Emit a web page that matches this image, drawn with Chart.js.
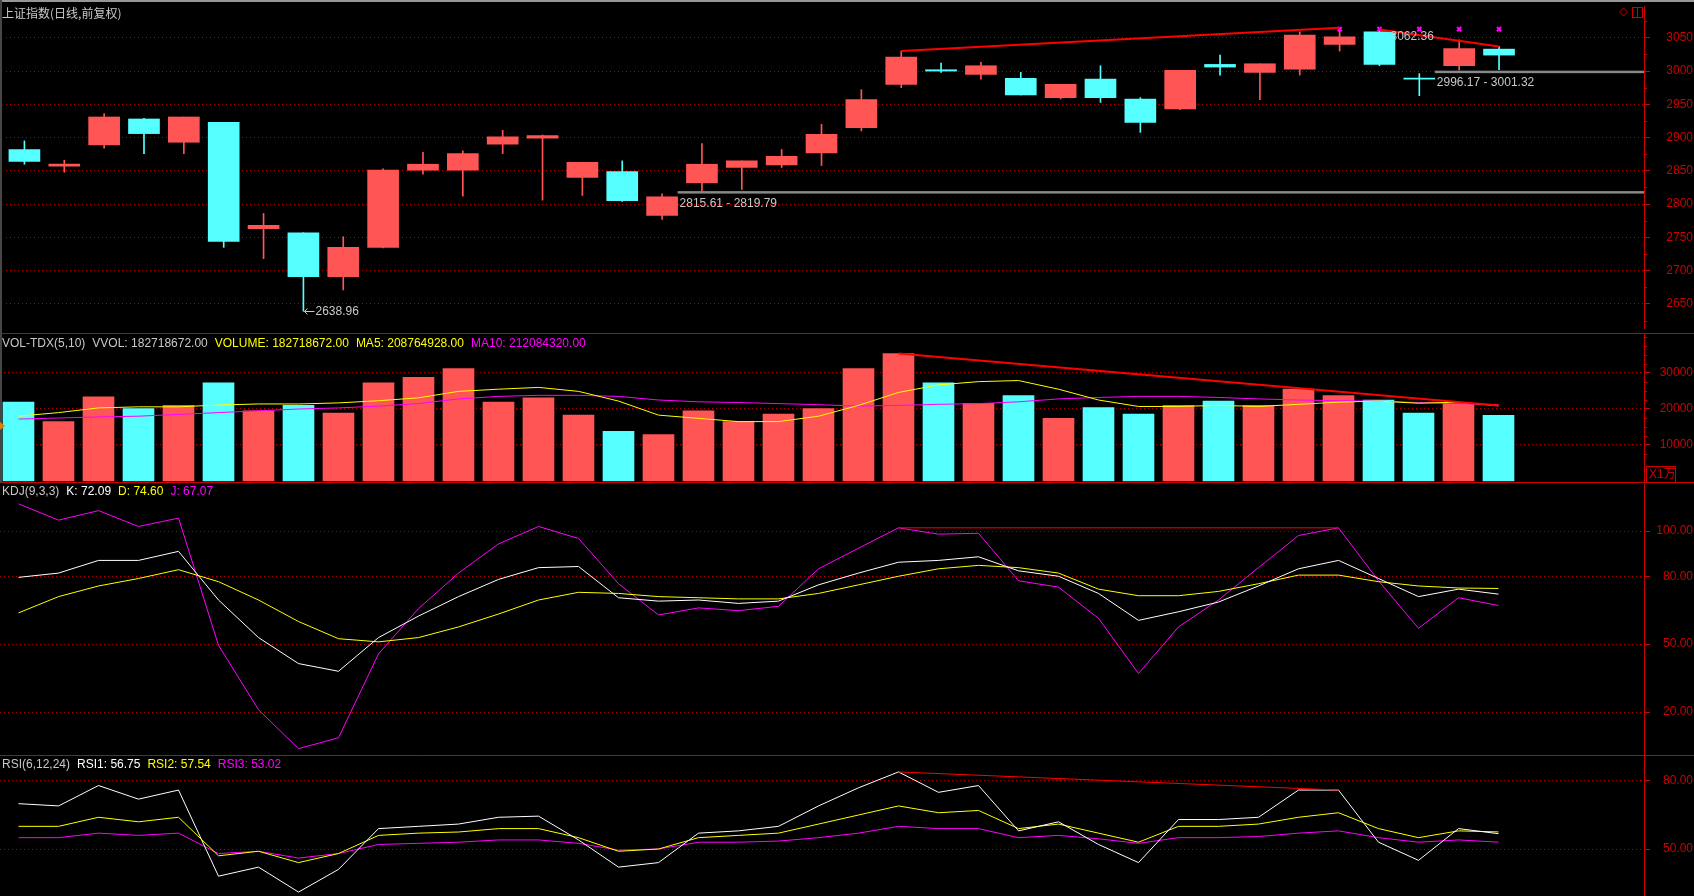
<!DOCTYPE html>
<html>
<head>
<meta charset="utf-8">
<script src="https://cdn.jsdelivr.net/npm/chart.js@4.4.1/dist/chart.umd.min.js"></script>
<style>
  html, body { margin: 0; padding: 0; background: #000; }
  #wrap { position: relative; width: 1694px; height: 896px; overflow: hidden; background: #000; }
  .pane { position: absolute; left: 0; width: 1694px; }
</style>
</head>
<body>
<div id="wrap">
  <div class="pane" style="top:0;height:334px"><canvas id="priceChart"></canvas></div>
  <div class="pane" style="top:334px;height:149px"><canvas id="volChart"></canvas></div>
  <div class="pane" style="top:483px;height:273px"><canvas id="kdjChart"></canvas></div>
  <div class="pane" style="top:756px;height:140px"><canvas id="rsiChart"></canvas></div>
</div>
<script>
// K线数据 (上证指数 日线 前复权)
const candleOpen  = [2882, 2857, 2889, 2928, 2893, 2923, 2763, 2757, 2691, 2735, 2851, 2851, 2890, 2899, 2840, 2849, 2783, 2832, 2855, 2859, 2877, 2915, 2980, 3002, 2995, 2989, 2960, 2988, 2958, 2943, 3010, 2998, 3003, 3040, 3059, 2989, 3008, 3033];
const candleHigh  = [2895, 2866, 2936, 2929, 2931, 2923, 2786, 2757, 2751, 2853, 2878, 2880, 2911, 2904, 2863, 2865, 2815.61, 2891, 2865, 2882, 2920, 2972, 3030, 3012, 3013, 2998, 2980, 3008, 2960, 3001, 3024, 3011, 3059, 3065, 3062.36, 2996.17, 3047, 3037];
const candleLow   = [2860, 2848, 2884, 2876, 2876, 2735, 2718, 2638.96, 2671, 2734, 2845, 2812, 2876, 2806, 2813, 2804, 2777, 2819.79, 2822, 2855, 2858, 2910, 2975, 2998, 2988, 2964, 2958, 2953, 2908, 2942, 2994, 2957, 2994, 3030, 3008, 2963, 3001.32, 3002];
const candleClose = [2864, 2860, 2931, 2906, 2931, 2744, 2768, 2691, 2735, 2851, 2860, 2876, 2901, 2903, 2863, 2805, 2811, 2860, 2865, 2872, 2905, 2957, 3021, 3000, 3008, 2964, 2980, 2960, 2923, 3001, 3006, 3011, 3054, 3051.5, 3010, 2988, 3034, 3024];

// 成交量 (万) 及均量
const volume = [21900, 16500, 23400, 20100, 21000, 27300, 19500, 21000, 18900, 27300, 28800, 31200, 21900, 23100, 18300, 13800, 12900, 19500, 16500, 18600, 20100, 31200, 35400, 27300, 21600, 23700, 17400, 20400, 18600, 21000, 22200, 21000, 25500, 23700, 22500, 18900, 21600, 18271.87];
const volMa5  = [18000, 19000, 20300, 20600, 20600, 21100, 21400, 21400, 21700, 22300, 23100, 24900, 25500, 26000, 24900, 22200, 18300, 17400, 16500, 16500, 18000, 21000, 24600, 26700, 27600, 27900, 25500, 22500, 20700, 20700, 21000, 20700, 21300, 21900, 22200, 21600, 21900, 20876.49];
const volMa10 = [17200, 17500, 17800, 18000, 18500, 19000, 19500, 20000, 20300, 20800, 21500, 22800, 23500, 23800, 23800, 23500, 22500, 22000, 21800, 21500, 21200, 20800, 21000, 21300, 21500, 22000, 22800, 23200, 23500, 23500, 23200, 22800, 22500, 22300, 22200, 21800, 21500, 21208.43];

// KDJ(9,3,3)
const kdjK = [79.5, 81.4, 87, 87, 91, 69.5, 52.9, 41.4, 38, 52.9, 62.4, 71, 78.6, 83.8, 84.3, 70.5, 69, 69.5, 68, 69, 76.2, 81.4, 86.2, 87, 88.6, 82.4, 80, 72.4, 60.5, 64.3, 68.6, 75.7, 83.3, 87, 79, 71, 74.3, 72.09];
const kdjD = [63.8, 71, 75.7, 79, 82.9, 77.6, 69.5, 60, 52.4, 51, 52.9, 57.6, 63.3, 69.5, 72.9, 72.4, 71, 70.5, 70, 70, 72.4, 76.2, 80, 83.3, 84.8, 83.8, 81.4, 74.3, 71.4, 71.4, 73.3, 76.7, 80.5, 80.5, 77.6, 75.7, 74.8, 74.60];
const kdjJ = [112, 104.8, 109, 102, 105.7, 49.5, 21, 3.8, 8.6, 45.7, 65.7, 81.4, 94.3, 102, 96.7, 76.7, 62.9, 66, 64.8, 66.7, 83.3, 92.4, 101.4, 98.6, 99, 78, 75.2, 61.4, 37, 57.6, 69.5, 83.8, 98, 101.4, 78, 57, 70.5, 67.07];

// RSI(6,12,24)
const rsi1 = [70, 69, 78, 72, 76, 38, 42, 31, 41, 59, 60, 61, 64, 64.5, 54, 42, 44, 57, 58, 60, 69, 77, 84, 75, 78, 58, 62, 52, 44, 63, 63, 64, 76, 76, 53, 45, 59, 56.75];
const rsi2 = [60, 60, 64, 62, 64, 47, 49, 44, 48, 56, 57, 57.5, 59, 59, 55, 49, 50, 55, 56, 57, 61, 65, 69, 66, 67, 59, 61, 57, 53, 60, 60, 61, 64, 66, 59, 55, 58, 57.54];
const rsi3 = [55, 55, 57, 56, 57, 48, 49, 46, 48, 52, 52.5, 53, 54, 54, 52.5, 49.5, 50, 53, 53, 53.5, 55, 57, 60, 59, 59, 55, 56, 54.5, 52.5, 55, 55, 55.5, 57, 58, 55, 53, 54, 53.02];

// 刻度
const priceTicks = [2650, 2700, 2750, 2800, 2850, 2900, 2950, 3000, 3050];
const volTicks = [10000, 20000, 30000];
const kdjTicks = [20, 50, 80, 100];
const rsiTicks = [50, 80];

// 画线 (趋势线, 缺口, 标记)
const priceTrend1 = [[22, 3030], [33, 3065]];
const priceTrend2 = [[34, 3062.36], [37, 3037]];
const volTrend = [[22, 35400], [37, 21000]];
const kdjTrend = [[22, 101.4], [33, 101.4]];
const rsiTrend = [[22, 84], [33, 76]];
const signalDays = [33, 34, 35, 36, 37];
const signalLevel = 3063;
const gapDays = [16, 35];
const gapLow = [2815.61, 2996.17];
const gapHigh = [2819.79, 3001.32];

const RED = '#ff5555';
const CYAN = '#55ffff';
const AXIS_RED = 'rgb(204,0,0)';
const GRID_RED = 'rgb(176,0,0)';
const GRAY_TXT = 'rgb(200,200,200)';
const FONT = '12px "Liberation Sans", "Noto Sans CJK SC", sans-serif';
const BODY_W = 31;

const xMin = -0.4625;
const xMax = xMin + 1644 / 40;
const isUp = candleOpen.map((o, i) => candleClose[i] >= o);
const barColors = isUp.map(u => u ? RED : CYAN);

function series(values) {
    return values.map((v, i) => ({ x: i, y: v }));
}
function pairs(list) {
    return list.map(p => ({ x: p[0], y: p[1] }));
}
function lineSet(data, color, width) {
    return {
        type: 'line', data: data, borderColor: color, borderWidth: width || 1,
        pointRadius: 0, tension: 0, fill: false, order: 0
    };
}

function drawHeader(ctx, segs, y) {
    ctx.font = FONT;
    ctx.textAlign = 'left';
    ctx.textBaseline = 'middle';
    let x = 2;
    segs.forEach(s => {
        ctx.fillStyle = s[1];
        ctx.fillText(s[0], x, y);
        x += ctx.measureText(s[0]).width + 7;
    });
}

// 面板装饰: 分隔线, 刻度文字, 小刻度, 标题
const panelDecor = {
    id: 'panelDecor',
    afterDatasetsDraw(chart, args, o) {
        const { ctx, chartArea } = chart;
        const ys = chart.scales.y;
        ctx.save();
        if (o.separator) {
            ctx.strokeStyle = AXIS_RED;
            ctx.lineWidth = 1;
            ctx.beginPath();
            ctx.moveTo(0, chart.height - 0.5);
            ctx.lineTo(chart.width, chart.height - 0.5);
            ctx.stroke();
        }
        if (o.minorStep) {
            ctx.strokeStyle = AXIS_RED;
            ctx.beginPath();
            for (let v = o.labels[0] - o.minorStep; v <= ys.max; v += o.minorStep) {
                if (o.labels.includes(v) || v < ys.min) continue;
                const y = Math.round(ys.getPixelForValue(v)) + 0.5;
                ctx.moveTo(chartArea.right, y);
                ctx.lineTo(chartArea.right + 3, y);
            }
            ctx.stroke();
        }
        ctx.font = FONT;
        ctx.fillStyle = AXIS_RED;
        ctx.textAlign = 'right';
        ctx.textBaseline = 'middle';
        o.labels.forEach(v => {
            ctx.fillText(v.toFixed(o.decimals), chart.width - 1, ys.getPixelForValue(v));
        });
        if (o.header) drawHeader(ctx, o.header, o.headerY);
        if (o.extra) o.extra(chart);
        ctx.restore();
    }
};
Chart.register(panelDecor);

function yAxis(min, max, ticks) {
    return {
        position: 'right', min: min, max: max,
        afterBuildTicks: s => { s.ticks = ticks.map(v => ({ value: v })); },
        afterFit: s => { s.width = 50; },
        ticks: { display: false },
        grid: { color: GRID_RED, lineWidth: 1, drawTicks: true, tickLength: 6, tickColor: AXIS_RED },
        border: { display: true, color: AXIS_RED, width: 1, dash: [1, 3] }
    };
}
function baseOptions(min, max, ticks, decor) {
    return {
        responsive: true,
        maintainAspectRatio: false,
        animation: false,
        layout: { padding: 0 },
        scales: {
            x: { type: 'linear', min: xMin, max: xMax, offset: false, display: false },
            y: yAxis(min, max, ticks)
        },
        plugins: { legend: { display: false }, tooltip: { enabled: false }, panelDecor: decor }
    };
}

// 主图: 蜡烛图
function drawPriceNotes(chart) {
    const { ctx, chartArea } = chart;
    const xs = chart.scales.x, ys = chart.scales.y;
    // 顶部灰线
    ctx.fillStyle = 'rgb(150,150,150)';
    ctx.fillRect(0, 0, chart.width, 2);
    ctx.fillStyle = 'rgb(70,70,70)';
    ctx.fillRect(0, 0, 2, chart.height);
    ctx.font = '12px "Noto Sans CJK SC", sans-serif';
    ctx.fillStyle = GRAY_TXT;
    ctx.textAlign = 'left';
    ctx.textBaseline = 'middle';
    ctx.fillText('上证指数(日线,前复权)', 2, 13);

    // 缺口线
    gapDays.forEach((d, k) => {
        const y = ys.getPixelForValue((gapLow[k] + gapHigh[k]) / 2);
        const x0 = xs.getPixelForValue(d) + BODY_W / 2;
        ctx.fillStyle = 'rgb(136,136,136)';
        ctx.fillRect(x0, y - 1.25, chartArea.right - x0, 2.5);
        ctx.font = FONT;
        ctx.fillStyle = GRAY_TXT;
        ctx.fillText(gapLow[k].toFixed(2) + ' - ' + gapHigh[k].toFixed(2), x0 + 2, y + 11);
    });

    // 最低价标注
    const lowIdx = candleLow.indexOf(Math.min(...candleLow));
    const lx = Math.round(xs.getPixelForValue(lowIdx)) + 0.5;
    const ly = Math.round(ys.getPixelForValue(candleLow[lowIdx])) + 0.5;
    ctx.strokeStyle = GRAY_TXT;
    ctx.lineWidth = 1;
    ctx.beginPath();
    ctx.moveTo(lx + 1, ly); ctx.lineTo(lx + 11, ly);
    ctx.moveTo(lx + 1, ly); ctx.lineTo(lx + 4, ly - 3);
    ctx.moveTo(lx + 1, ly); ctx.lineTo(lx + 4, ly + 3);
    ctx.stroke();
    ctx.fillText(candleLow[lowIdx].toFixed(2), lx + 12, ly);

    // 最高价标注
    const highIdx = candleHigh.indexOf(Math.max(...candleHigh.slice(34)), 34);
    ctx.fillText(candleHigh[highIdx].toFixed(2), xs.getPixelForValue(highIdx) + 11, ys.getPixelForValue(candleHigh[highIdx]) + 7);

    // 右上角图标
    ctx.strokeStyle = AXIS_RED;
    ctx.beginPath();
    ctx.moveTo(1623.5, 8); ctx.lineTo(1627.5, 12); ctx.lineTo(1623.5, 16); ctx.lineTo(1619.5, 12); ctx.closePath();
    ctx.stroke();
    ctx.strokeRect(1632.5, 7.5, 10, 10);
    ctx.beginPath(); ctx.moveTo(1637.5, 7.5); ctx.lineTo(1637.5, 17.5); ctx.stroke();
}

new Chart(document.getElementById('priceChart'), {
    type: 'bar',
    data: {
        datasets: [
            lineSet(pairs(priceTrend1), '#ff0000', 2),
            lineSet(pairs(priceTrend2), '#ff0000', 2),
            {
                type: 'line', data: signalDays.map(d => ({ x: d, y: signalLevel })), showLine: false,
                pointStyle: 'crossRot', pointRadius: 3, borderColor: '#ff00ff', borderWidth: 2, order: 0
            },
            {
                data: candleOpen.map((o, i) => ({ x: i, y: [o, candleClose[i]] })),
                backgroundColor: barColors, borderWidth: 0, barThickness: BODY_W,
                minBarLength: 1, grouped: false, order: 1
            },
            {
                data: candleLow.map((l, i) => ({ x: i, y: [l, candleHigh[i]] })),
                backgroundColor: barColors, borderWidth: 0, barThickness: 1, grouped: false, order: 2
            }
        ]
    },
    options: baseOptions(2650 - 25 / 0.69, 3050 + 33 / 0.69, priceTicks, {
        separator: true, labels: priceTicks, decimals: 0, minorStep: 25, extra: drawPriceNotes
    })
});

// 成交量
new Chart(document.getElementById('volChart'), {
    type: 'bar',
    data: {
        datasets: [
            lineSet(pairs(volTrend), '#ff0000', 2),
            lineSet(series(volMa5), '#ffff00'),
            lineSet(series(volMa10), '#ff00ff'),
            {
                data: series(volume), backgroundColor: barColors, borderWidth: 0,
                barThickness: BODY_W, grouped: false, order: 1
            }
        ]
    },
    options: baseOptions(-2 / 36 * 10000, 147 / 36 * 10000, volTicks, {
        separator: true, labels: volTicks, decimals: 0, minorStep: 2500, headerY: 10,
        header: [
            ['VOL-TDX(5,10)', GRAY_TXT], ['VVOL: 182718672.00', GRAY_TXT],
            ['VOLUME: 182718672.00', '#ffff00'], ['MA5: 208764928.00', '#ffff00'],
            ['MA10: 212084320.00', '#ff00ff']
        ],
        extra: chart => {
            const { ctx, chartArea } = chart;
            ctx.strokeStyle = AXIS_RED;
            ctx.lineWidth = 1;
            ctx.strokeRect(chartArea.right + 2.5, chart.height - 16.5, 29, 16);
            ctx.font = FONT;
            ctx.fillStyle = AXIS_RED;
            ctx.textAlign = 'left';
            ctx.fillText('X1万', chartArea.right + 5, chart.height - 8);
            // 左侧滚动标记
            ctx.fillStyle = 'rgb(70,70,70)';
            ctx.fillRect(0, 0, 2, chart.height);
            ctx.fillStyle = '#e08000';
            ctx.beginPath();
            ctx.moveTo(0, 88); ctx.lineTo(5, 92); ctx.lineTo(0, 96); ctx.closePath();
            ctx.fill();
        }
    })
});

// KDJ
new Chart(document.getElementById('kdjChart'), {
    type: 'line',
    data: {
        datasets: [
            lineSet(pairs(kdjTrend), '#ff0000', 1),
            lineSet(series(kdjK), '#ffffff'),
            lineSet(series(kdjD), '#ffff00'),
            lineSet(series(kdjJ), '#ff00ff')
        ]
    },
    options: baseOptions(20 - 44 / 2.2625, 100 + 48 / 2.2625, kdjTicks, {
        separator: true, labels: kdjTicks, decimals: 2, headerY: 9,
        header: [
            ['KDJ(9,3,3)', GRAY_TXT], ['K: 72.09', '#ffffff'],
            ['D: 74.60', '#ffff00'], ['J: 67.07', '#ff00ff']
        ]
    })
});

// RSI
new Chart(document.getElementById('rsiChart'), {
    type: 'line',
    data: {
        datasets: [
            lineSet(pairs(rsiTrend), '#ff0000', 1),
            lineSet(series(rsi1), '#ffffff'),
            lineSet(series(rsi2), '#ffff00'),
            lineSet(series(rsi3), '#ff00ff')
        ]
    },
    options: baseOptions(50 - 47 / 2.2667, 80 + 25 / 2.2667, rsiTicks, {
        separator: false, labels: rsiTicks, decimals: 2, headerY: 9,
        header: [
            ['RSI(6,12,24)', GRAY_TXT], ['RSI1: 56.75', '#ffffff'],
            ['RSI2: 57.54', '#ffff00'], ['RSI3: 53.02', '#ff00ff']
        ]
    })
});
</script>
</body>
</html>
